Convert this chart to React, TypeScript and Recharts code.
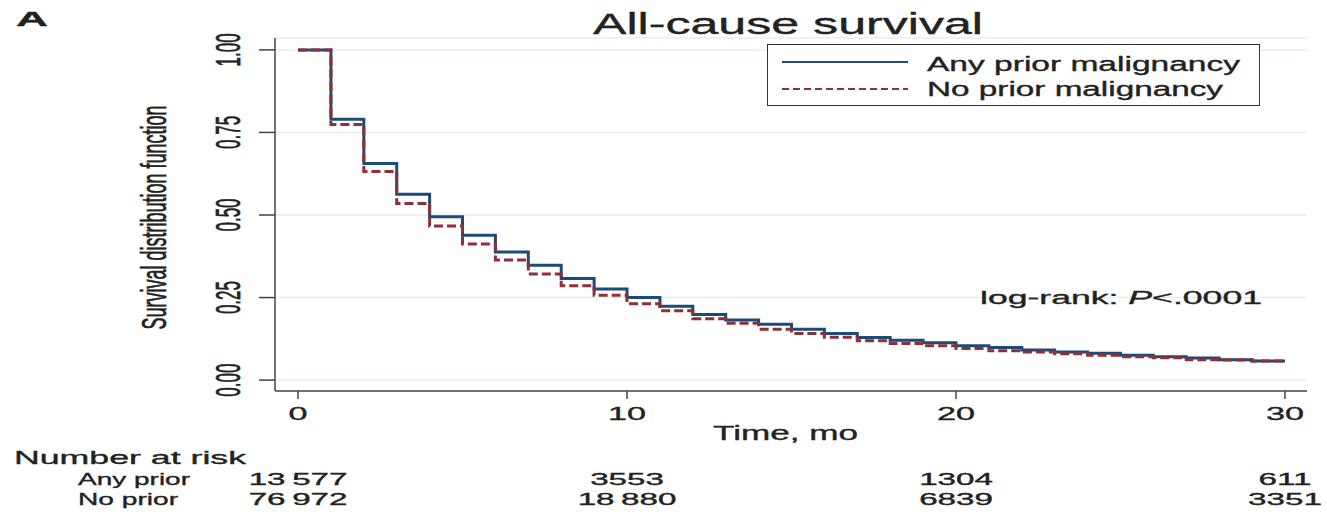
import { LineChart, Line, XAxis, YAxis, CartesianGrid, Legend } from 'recharts';

if (typeof document !== 'undefined') document.body.style.margin = '0';

const FONT = '"Liberation Sans", Arial, Helvetica, sans-serif';
const INK = '#222';
const BLUE = '#1d4b78';
const RED = '#8f2f3a';

// months of follow-up
const months = [0, 1, 2, 3, 4, 5, 6, 7, 8, 9, 10, 11, 12, 13, 14, 15, 16, 17, 18, 19, 20, 21, 22, 23, 24, 25, 26, 27, 28, 29, 30];

// survival
const anyPrior = [1.0, 0.79, 0.656, 0.563, 0.495, 0.439, 0.388, 0.348, 0.308, 0.276, 0.25, 0.224, 0.199, 0.182, 0.169, 0.154, 0.141, 0.129, 0.121, 0.113, 0.104, 0.099, 0.091, 0.085, 0.081, 0.075, 0.071, 0.067, 0.062, 0.058, 0.058];
const noPrior = [1.0, 0.774, 0.632, 0.535, 0.467, 0.412, 0.364, 0.321, 0.286, 0.257, 0.231, 0.21, 0.186, 0.172, 0.154, 0.141, 0.13, 0.119, 0.111, 0.104, 0.096, 0.089, 0.085, 0.08, 0.075, 0.071, 0.068, 0.062, 0.061, 0.058, 0.058];

const xTicks = [0, 10, 20, 30];
const yTicks = [0, 0.25, 0.5, 0.75, 1];

// number at risk table
const riskTimes = [0, 10, 20, 30];
const riskAny = [13577, 3553, 1304, 611];
const riskNo = [76972, 18880, 6839, 3351];

const data = months.map((m, i) => ({ month: m, anyPrior: anyPrior[i], noPrior: noPrior[i] }));

const fmt = (n: number) => (n >= 10000 ? String(n).replace(/(\d{3})$/, '\u2009$1') : String(n));

// a hair of stroke so the type looks as heavy as the scanned figure
const heavy = { stroke: INK, strokeWidth: 0.35 };

const XTick = (props: any) => {
  const { x, y, payload } = props;
  const i = riskTimes.indexOf(payload.value);
  const common = { textAnchor: 'middle' as const, fill: INK, fontFamily: FONT, ...heavy };
  return (
    <g>
      <text transform={`translate(${x},${y + 19}) scale(1.8,1)`} fontSize={19} {...common}>{payload.value}</text>
      {i >= 0 && (
        <text transform={`translate(${x},${y + 84}) scale(1.95,1)`} fontSize={17} {...common}>{fmt(riskAny[i])}</text>
      )}
      {i >= 0 && (
        <text transform={`translate(${x},${y + 104}) scale(1.95,1)`} fontSize={17} {...common}>{fmt(riskNo[i])}</text>
      )}
    </g>
  );
};

const YTick = (props: any) => {
  const { x, y, payload } = props;
  return (
    <text
      transform={`translate(${x - 17},${y}) rotate(-90) scale(1,2.05)`}
      textAnchor="middle"
      fontSize={17}
      fill={INK}
      fontFamily={FONT}
      {...heavy}
    >
      {payload.value.toFixed(2)}
    </text>
  );
};

const legendWidths: Record<string, number> = { anyPrior: 313, noPrior: 296 };

const renderLegend = (props: any) => {
  const items = props.payload || [];
  return (
    <div style={{ width: 493, height: 62, border: '1.5px solid #333', boxSizing: 'border-box', background: '#fff' }}>
      <svg width={490} height={59} style={{ display: 'block' }}>
        {items.map((e: any, i: number) => {
          const key = e.dataKey || (i === 0 ? 'anyPrior' : 'noPrior');
          return (
            <g key={key}>
              <line
                x1={14}
                x2={140}
                y1={17 + i * 27}
                y2={17 + i * 27}
                stroke={e.color}
                strokeWidth={2}
                strokeDasharray={key === 'noPrior' ? '7 4' : undefined}
              />
              <text
                x={159}
                y={26 + i * 25}
                fontSize={20}
                fill={INK}
                fontFamily={FONT}
                textLength={legendWidths[key]}
                lengthAdjust="spacingAndGlyphs"
                {...heavy}
              >
                {e.value}
              </text>
            </g>
          );
        })}
      </svg>
    </div>
  );
};

export default function App() {
  return (
    <div style={{ position: 'relative', width: 1327, height: 512, background: '#fff' }}>
      <LineChart width={1327} height={512} data={data} margin={{ top: 38, right: 20, bottom: 91, left: 0 }}>
        <CartesianGrid horizontal vertical={false} stroke="#e3edf6" strokeWidth={1.5} />
        <XAxis
          dataKey="month"
          type="number"
          domain={[-0.7, 30.67]}
          ticks={xTicks}
          allowDataOverflow
          height={30}
          tickSize={8}
          axisLine={{ stroke: '#444', strokeWidth: 1.5 }}
          tickLine={{ stroke: '#444', strokeWidth: 1.5 }}
          tick={<XTick />}
        />
        <YAxis
          type="number"
          domain={[-0.033, 1.036]}
          ticks={yTicks}
          allowDataOverflow
          width={275}
          tickSize={16}
          axisLine={{ stroke: '#444', strokeWidth: 1.5 }}
          tickLine={{ stroke: '#444', strokeWidth: 1.5 }}
          tick={<YTick />}
        />
        <Legend
          layout="horizontal"
          verticalAlign="middle"
          align="center"
          content={renderLegend}
          wrapperStyle={{ position: 'absolute', left: 767, top: 44, width: 493, height: 62 }}
        />
        <Line
          type="stepAfter"
          dataKey="anyPrior"
          name="Any prior malignancy"
          stroke={BLUE}
          strokeWidth={3}
          dot={false}
          isAnimationActive={false}
        />
        <Line
          type="stepAfter"
          dataKey="noPrior"
          name="No prior malignancy"
          stroke={RED}
          strokeWidth={3}
          strokeDasharray="9 4"
          dot={false}
          isAnimationActive={false}
        />
      </LineChart>
      <svg
        width={1327}
        height={512}
        style={{ position: 'absolute', left: 0, top: 0, pointerEvents: 'none' }}
        fontFamily={FONT}
        fill={INK}
        stroke={INK}
        strokeWidth={0.35}
      >
        <text x={16} y={26} fontSize={21} fontWeight="bold" textLength={32} lengthAdjust="spacingAndGlyphs">A</text>
        <text x={593} y={34} fontSize={29} textLength={390} lengthAdjust="spacingAndGlyphs">All-cause survival</text>
        <text transform="translate(166,217.5) rotate(-90) scale(1,2)" textAnchor="middle" fontSize={18}>
          Survival distribution function
        </text>
        <text x={980} y={304} fontSize={19} textLength={282} lengthAdjust="spacingAndGlyphs">
          log-rank: <tspan fontStyle="italic">P</tspan>&lt;.0001
        </text>
        <text x={713} y={440} fontSize={20} textLength={145} lengthAdjust="spacingAndGlyphs">Time, mo</text>
        <text x={14} y={464} fontSize={19} textLength={232} lengthAdjust="spacingAndGlyphs">Number at risk</text>
        <text x={78} y={485} fontSize={17} textLength={112} lengthAdjust="spacingAndGlyphs">Any prior</text>
        <text x={78} y={505} fontSize={17} textLength={100} lengthAdjust="spacingAndGlyphs">No prior</text>
      </svg>
    </div>
  );
}
